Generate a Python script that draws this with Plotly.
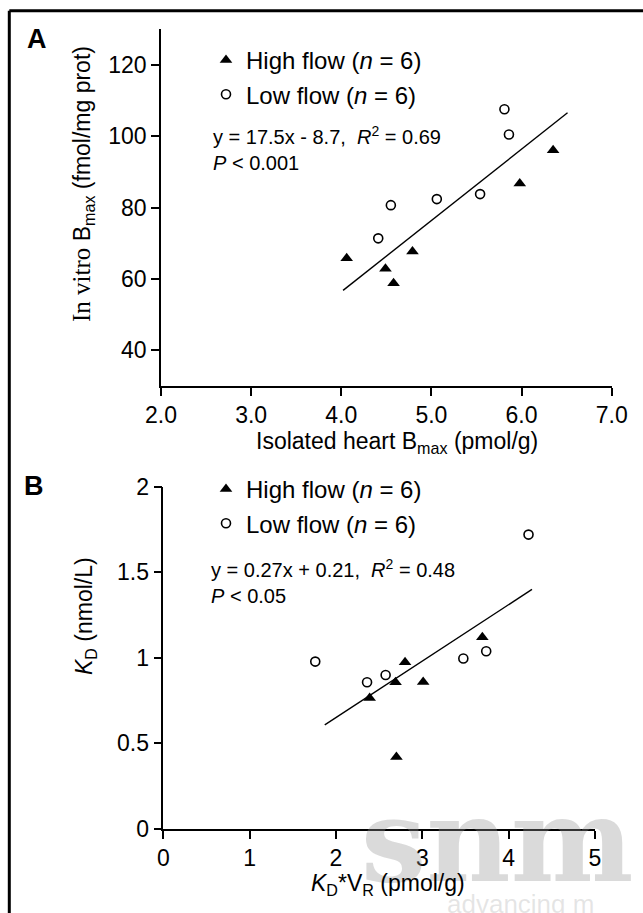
import plotly.graph_objects as go

# ---------------- data ----------------
# Panel A: isolated heart Bmax (pmol/g) vs in vitro Bmax (fmol/mg prot)
a_high_x = [4.06, 4.49, 4.58, 4.79, 5.98, 6.35]
a_high_y = [65.8, 62.9, 58.8, 67.7, 86.8, 96.1]
a_low_x = [4.41, 4.55, 5.06, 5.54, 5.81, 5.86]
a_low_y = [71.4, 80.7, 82.4, 83.8, 107.6, 100.5]
a_fit_x = [4.02, 6.51]
a_fit_y = [56.8, 106.6]
a_xticks = [2, 3, 4, 5, 6, 7]
a_yticks = [40, 60, 80, 100, 120]
a_xrange = [2, 7]
a_yrange = [30, 130]

# Panel B: KD*VR (pmol/g) vs KD (nmol/L)
b_high_x = [2.39, 2.69, 2.70, 2.80, 3.01, 3.695]
b_high_y = [0.765, 0.857, 0.42, 0.975, 0.859, 1.12]
b_low_x = [1.76, 2.36, 2.575, 3.475, 3.74, 4.23]
b_low_y = [0.978, 0.857, 0.90, 0.996, 1.039, 1.72]
b_fit_x = [1.87, 4.27]
b_fit_y = [0.608, 1.40]
b_xticks = [0, 1, 2, 3, 4, 5]
b_yticks = [0, 0.5, 1, 1.5, 2]
b_ytick_text = ["0", "0.5", "1", "1.5", "2"]
b_xrange = [0, 5]
b_yrange = [0, 2]

high_name = "High flow (<i>n</i> = 6)"
low_name = "Low flow (<i>n</i> = 6)"
eq_a = "y = 17.5x - 8.7,  <i>R</i><sup>2</sup> = 0.69<br><i>P</i> < 0.001"
eq_b = "y = 0.27x + 0.21,  <i>R</i><sup>2</sup> = 0.48<br><i>P</i> < 0.05"

# ---------------- layout helpers ----------------
W, H = 643, 913
FONT = "Liberation Sans, Arial, sans-serif"


def fx(p):
    return p / W


def fy(p):
    return 1 - p / H


fig = go.Figure()

tri = dict(symbol="triangle-up", size=11, color="black")
circ = dict(symbol="circle-open", size=9, color="black", line=dict(width=1.6, color="black"))

fig.add_trace(go.Scatter(x=a_high_x, y=a_high_y, mode="markers", marker=tri, name=high_name,
                         xaxis="x", yaxis="y", legend="legend"))
fig.add_trace(go.Scatter(x=a_low_x, y=a_low_y, mode="markers", marker=circ, name=low_name,
                         xaxis="x", yaxis="y", legend="legend"))
fig.add_trace(go.Scatter(x=a_fit_x, y=a_fit_y, mode="lines", line=dict(color="black", width=1.4),
                         showlegend=False, xaxis="x", yaxis="y"))

fig.add_trace(go.Scatter(x=b_high_x, y=b_high_y, mode="markers", marker=tri, name=high_name,
                         xaxis="x2", yaxis="y2", legend="legend2"))
fig.add_trace(go.Scatter(x=b_low_x, y=b_low_y, mode="markers", marker=circ, name=low_name,
                         xaxis="x2", yaxis="y2", legend="legend2"))
fig.add_trace(go.Scatter(x=b_fit_x, y=b_fit_y, mode="lines", line=dict(color="black", width=1.4),
                         showlegend=False, xaxis="x2", yaxis="y2"))

axis_common = dict(showline=True, linecolor="black", linewidth=1.5, ticks="outside",
                   ticklen=8, tickwidth=1.5, tickcolor="black", showgrid=False, zeroline=False,
                   automargin=False,
                   tickfont=dict(family=FONT, size=23, color="black"), fixedrange=True)

legend_common = dict(font=dict(family=FONT, size=24, color="black"), bgcolor="rgba(0,0,0,0)",
                     xanchor="left", yanchor="top", tracegroupgap=0, itemclick=False)

fig.update_layout(
    template="none",
    width=W, height=H,
    margin=dict(l=0, r=0, t=0, b=0, pad=0, autoexpand=False),
    paper_bgcolor="white", plot_bgcolor="white",
    font=dict(family=FONT, color="black"),
    xaxis=dict(domain=[fx(161), fx(611.7)], range=a_xrange, tickvals=a_xticks,
               tickformat=".1f", anchor="y", **axis_common),
    yaxis=dict(domain=[fy(386), fy(29.3)], range=a_yrange, tickvals=a_yticks,
               anchor="x", **axis_common),
    xaxis2=dict(domain=[fx(163.3), fx(595)], range=b_xrange, tickvals=b_xticks,
                anchor="y2", **axis_common),
    yaxis2=dict(domain=[fy(829), fy(486.7)], range=b_yrange, tickvals=b_yticks,
                ticktext=b_ytick_text, anchor="x2", **axis_common),
    legend=dict(x=fx(206), y=fy(38), **legend_common),
    legend2=dict(x=fx(206), y=fy(467), **legend_common),
)

ann = []
# watermark (semi-transparent grey so the axis stays visible through it)
ann.append(dict(text="<b>snm</b>", x=fx(497), y=fy(840), xref="paper", yref="paper",
                showarrow=False, font=dict(family="DejaVu Serif", size=116,
                                           color="rgba(150,150,150,0.35)"),
                xanchor="center", yanchor="middle"))
ann.append(dict(text="advancing m", x=fx(445), y=fy(904), xref="paper", yref="paper",
                showarrow=False, font=dict(family=FONT, size=26, color="rgba(150,150,150,0.25)"),
                xanchor="left", yanchor="middle"))
# panel letters
ann.append(dict(text="<b>A</b>", x=fx(36.5), y=fy(39), xref="paper", yref="paper", showarrow=False,
                font=dict(family=FONT, size=27, color="black"), xanchor="center", yanchor="middle"))
ann.append(dict(text="<b>B</b>", x=fx(33.5), y=fy(486), xref="paper", yref="paper", showarrow=False,
                font=dict(family=FONT, size=27, color="black"), xanchor="center", yanchor="middle"))
# equations
ann.append(dict(text=eq_a, x=fx(211), y=fy(148), xref="paper", yref="paper", showarrow=False,
                align="left", font=dict(family=FONT, size=20, color="black"),
                xanchor="left", yanchor="middle"))
ann.append(dict(text=eq_b, x=fx(209), y=fy(581), xref="paper", yref="paper", showarrow=False,
                align="left", font=dict(family=FONT, size=20, color="black"),
                xanchor="left", yanchor="middle"))
# axis titles
ann.append(dict(text="<span style='font-family:Liberation Serif;font-size:25px'>In vitro</span> B<sub>max</sub> (fmol/mg prot)",
                x=fx(83), y=fy(184), xref="paper", yref="paper", showarrow=False, textangle=-90,
                font=dict(family=FONT, size=23, color="black"), xanchor="center", yanchor="middle"))
ann.append(dict(text="<i>K</i><sub>D</sub> (nmol/L)",
                x=fx(85), y=fy(616), xref="paper", yref="paper", showarrow=False, textangle=-90,
                font=dict(family=FONT, size=23, color="black"), xanchor="center", yanchor="middle"))
ann.append(dict(text="Isolated heart B<sub>max</sub> (pmol/g)",
                x=fx(397), y=fy(442), xref="paper", yref="paper", showarrow=False,
                font=dict(family=FONT, size=23, color="black"), xanchor="center", yanchor="middle"))
ann.append(dict(text="<i>K</i><sub>D</sub>*V<sub>R</sub> (pmol/g)",
                x=fx(388), y=fy(884), xref="paper", yref="paper", showarrow=False,
                font=dict(family=FONT, size=23, color="black"), xanchor="center", yanchor="middle"))
fig.update_layout(annotations=ann)

# frame (top and left edges visible)
fig.add_shape(type="line", xref="paper", yref="paper", x0=fx(9.3), x1=1.0, y0=fy(10.7), y1=fy(10.7),
              line=dict(color="black", width=3))
fig.add_shape(type="line", xref="paper", yref="paper", x0=fx(9.3), x1=fx(9.3), y0=fy(10.7), y1=0.0,
              line=dict(color="black", width=3))

fig.write_html(
    "out.html",
    config={"displayModeBar": False},
    post_script="document.body.style.margin='0';document.body.style.overflow='hidden';",
)
